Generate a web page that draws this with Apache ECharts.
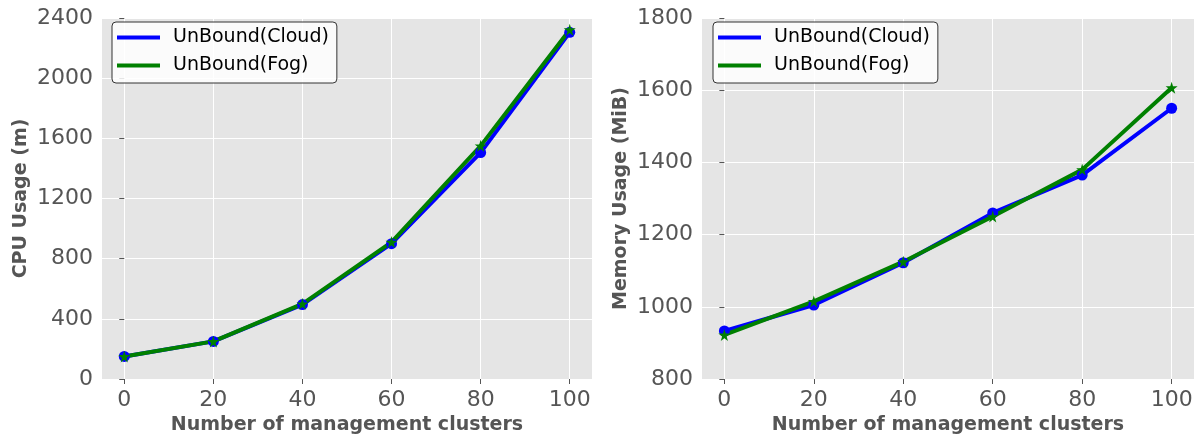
<!DOCTYPE html>
<html>
<head>
<meta charset="utf-8">
<script src="https://cdn.jsdelivr.net/npm/echarts@6/dist/echarts.min.js"></script>
<style>html,body{margin:0;padding:0;background:#fff}#c{width:1200px;height:436px}</style>
</head>
<body>
<div id="c"></div>
<script>
const clusters = [0, 20, 40, 60, 80, 100];
const xTicks = [0, 20, 40, 60, 80, 100];
const cpuCloud = [150, 250, 495, 900, 1505, 2305];
const cpuFog = [150, 250, 500, 910, 1550, 2322];
const memCloud = [933, 1005, 1122, 1260, 1365, 1550];
const memFog = [922, 1015, 1125, 1250, 1380, 1607];
const seriesNames = ['UnBound(Cloud)', 'UnBound(Fog)'];

const FONT = 'DejaVu Sans';
const STAR = 'path://M50,0 L61,35 L98,35 L68,57 L79,91 L50,70 L21,91 L32,57 L2,35 L39,35 Z';
const pair = (xs, ys) => xs.map((x, i) => [x, ys[i]]);
const plain = v => String(v);

function xAxisCfg(gi) {
  return {
    type: 'value', gridIndex: gi, min: -5, max: 105,
    name: 'Number of management clusters', nameLocation: 'middle', nameGap: 37,
    nameTextStyle: {fontFamily: FONT, fontWeight: 'bold', fontSize: 19, color: '#555'},
    axisLine: {show: false},
    axisTick: {show: true, length: 5, customValues: xTicks, lineStyle: {color: '#555'}},
    axisLabel: {customValues: xTicks, formatter: plain, fontFamily: FONT, fontSize: 22, color: '#555', margin: 10},
    splitLine: {show: true, lineStyle: {color: '#fff', width: 1}}
  };
}
function yAxisCfg(gi, name, min, max, interval) {
  return {
    type: 'value', gridIndex: gi, min: min, max: max, interval: interval,
    name: name, nameLocation: 'middle', nameGap: 71,
    nameTextStyle: {fontFamily: FONT, fontWeight: 'bold', fontSize: 19, color: '#555'},
    axisLine: {show: false},
    axisTick: {show: true, length: 5, lineStyle: {color: '#555'}},
    axisLabel: {formatter: plain, fontFamily: FONT, fontSize: 22, color: '#555', margin: 9},
    splitLine: {show: true, lineStyle: {color: '#fff', width: 1}}
  };
}
function lineSeries(name, gi, data, color, symbol, size) {
  return {
    name: name, type: 'line', xAxisIndex: gi, yAxisIndex: gi,
    data: data, symbol: symbol, symbolSize: size, showSymbol: true,
    lineStyle: {color: color, width: 4}, itemStyle: {color: color},
    emphasis: {disabled: true}, animation: false
  };
}
function legendCfg(left) {
  return {
    data: seriesNames, orient: 'vertical', left: left, top: 22,
    backgroundColor: 'rgba(255,255,255,0.85)', borderColor: '#333', borderWidth: 1, borderRadius: 4,
    padding: [6, 8, 8, 5], itemGap: 9, itemWidth: 43, itemHeight: 4, icon: 'rect',
    textStyle: {fontFamily: FONT, fontSize: 19, color: '#000', padding: [0, 0, 0, 8]}
  };
}

const chart = echarts.init(document.getElementById('c'), null, {renderer: 'canvas'});
chart.setOption({
  animation: false,
  grid: [
    {left: 102, right: 608, top: 18, bottom: 57, outerBoundsMode: 'none', containLabel: false, show: true, backgroundColor: '#E5E5E5', borderWidth: 0},
    {left: 702, right: 6, top: 18, bottom: 57, outerBoundsMode: 'none', containLabel: false, show: true, backgroundColor: '#E5E5E5', borderWidth: 0}
  ],
  legend: [legendCfg(112), legendCfg(713)],
  xAxis: [xAxisCfg(0), xAxisCfg(1)],
  yAxis: [yAxisCfg(0, 'CPU Usage (m)', 0, 2400, 400), yAxisCfg(1, 'Memory Usage (MiB)', 800, 1800, 200)],
  series: [
    lineSeries(seriesNames[0], 0, pair(clusters, cpuCloud), '#0000FF', 'circle', 11),
    lineSeries(seriesNames[1], 0, pair(clusters, cpuFog), '#008000', STAR, 12),
    lineSeries(seriesNames[0], 1, pair(clusters, memCloud), '#0000FF', 'circle', 11),
    lineSeries(seriesNames[1], 1, pair(clusters, memFog), '#008000', STAR, 12)
  ]
});
</script>
</body>
</html>
